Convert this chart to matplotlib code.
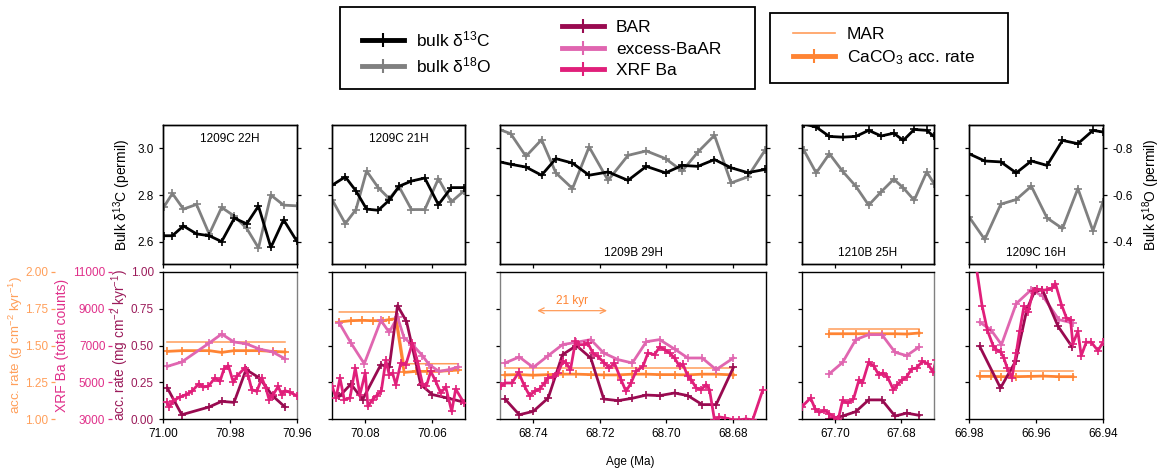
import matplotlib
matplotlib.use('Agg')
import matplotlib.pyplot as plt
from matplotlib.lines import Line2D
from matplotlib.patches import Rectangle
from matplotlib.ticker import FormatStrFormatter

plt.rcParams['font.family'] = ['Liberation Sans', 'DejaVu Sans']
plt.rcParams['mathtext.default'] = 'regular'
plt.rcParams['axes.unicode_minus'] = False

# ------------------------------------------------------------------ data
core_labels = ['1209C 22H', '1209C 21H', '1209B 29H', '1210B 25H', '1209C 16H']
x_limits = [(71.00, 70.96), (70.09, 70.05), (68.75, 68.67), (67.71, 67.67), (66.98, 66.94)]
x_ticks = [[71.00, 70.98, 70.96], [70.08, 70.06], [68.74, 68.72, 68.70, 68.68],
           [67.70, 67.68], [66.98, 66.96, 66.94]]
d13c_ticks = [2.6, 2.8, 3.0]
d18o_ticks = [-0.8, -0.6, -0.4]
mg_ticks = [0.00, 0.25, 0.50, 0.75, 1.00]
xrf_ticks = [3000, 5000, 7000, 9000, 11000]
g_ticks = [1.00, 1.25, 1.50, 1.75, 2.00]

# panel 1 : 1209C 22H
p1_iso_age = [70.9997, 70.9972, 70.9939, 70.9900, 70.9862, 70.9825, 70.9787, 70.9750,
              70.9715, 70.9678, 70.9640, 70.9601]
p1_d13c = [2.626, 2.626, 2.668, 2.634, 2.626, 2.601, 2.701, 2.677, 2.753, 2.576, 2.694, 2.604]
p1_d18o = [-0.550, -0.607, -0.540, -0.560, -0.433, -0.547, -0.510, -0.457, -0.374, -0.600,
           -0.557, -0.554]
p1_acc_age = [70.9987, 70.9944, 70.9862, 70.9825, 70.9788, 70.9752, 70.9712, 70.9673, 70.9636]
p1_bar = [0.211, 0.029, 0.082, 0.120, 0.113, 0.336, 0.279, 0.158, 0.082]
p1_xsbaar = [0.358, 0.388, 0.517, 0.578, 0.524, 0.512, 0.476, 0.456, 0.410]
p1_caco3 = [1.460, 1.465, 1.465, 1.453, 1.465, 1.465, 1.465, 1.460, 1.456]
p1_mar = [1.524, 1.524, 1.524, 1.524, 1.524, 1.524, 1.524, 1.524, 1.524]
p1_xrf_age = [70.9989, 70.9981, 70.9969, 70.9949, 70.9931, 70.9914, 70.9893, 70.9880,
              70.9865, 70.9845, 70.9830, 70.9818, 70.9805, 70.9790, 70.9780, 70.9755,
              70.9745, 70.9735, 70.9720, 70.9705, 70.9693, 70.9683, 70.9671, 70.9656,
              70.9646, 70.9636, 70.9621, 70.9601]
p1_xrf = [3904, 3656, 4000, 4200, 4328, 4504, 4920, 4744, 4776, 5232, 5048, 5720, 5904, 4992,
          5320, 5800, 5320, 4600, 4504, 5232, 4688, 4040, 4328, 4776, 4328, 4544, 4448, 4272]

# panel 2 : 1209C 21H
p2_iso_age = [70.0900, 70.0860, 70.0828, 70.0796, 70.0761, 70.0728, 70.0698, 70.0661,
              70.0621, 70.0580, 70.0541, 70.0503]
p2_d13c = [2.842, 2.878, 2.818, 2.740, 2.735, 2.778, 2.838, 2.860, 2.873, 2.759, 2.832, 2.832]
p2_d18o = [-0.581, -0.478, -0.538, -0.703, -0.632, -0.585, -0.635, -0.538, -0.538, -0.670,
           -0.571, -0.618]
p2_acc_age = [70.0878, 70.0843, 70.0810, 70.0778, 70.0748, 70.0728, 70.0708, 70.0683,
              70.0648, 70.0613, 70.0578, 70.0548, 70.0520]
p2_caco3 = [1.660, 1.669, 1.671, 1.669, 1.669, 1.676, 1.683, 1.317, 1.324, 1.324, 1.324,
            1.329, 1.333]
p2_mar = [1.728, 1.728, 1.728, 1.728, 1.728, 1.728, 1.728, 1.376, 1.376, 1.376, 1.376,
          1.376, 1.376]
p2_xs_age = [70.0878, 70.0843, 70.0803, 70.0753, 70.0728, 70.0703, 70.0683, 70.0658,
             70.0628, 70.0608, 70.0578, 70.0548, 70.0520]
p2_xsbaar = [0.653, 0.517, 0.376, 0.671, 0.590, 0.694, 0.551, 0.506, 0.431, 0.370, 0.324,
             0.336, 0.354]
p2_bar_age = [70.0878, 70.0843, 70.0808, 70.0753, 70.0728, 70.0703, 70.0676, 70.0633,
              70.0598, 70.0553, 70.0513]
p2_bar = [0.154, 0.238, 0.132, 0.370, 0.351, 0.771, 0.664, 0.234, 0.166, 0.143, 0.120]
p2_xrf_age = [70.0900, 70.0888, 70.0876, 70.0863, 70.0846, 70.0830, 70.0816, 70.0800,
              70.0792, 70.0778, 70.0766, 70.0752, 70.0738, 70.0728, 70.0718, 70.0708,
              70.0693, 70.0678, 70.0658, 70.0643, 70.0628, 70.0616, 70.0603, 70.0588,
              70.0573, 70.0558, 70.0540, 70.0528, 70.0503]
p2_xrf = [4816, 4144, 5232, 4056, 4144, 5776, 4328, 5504, 3688, 4056, 4272, 4504, 6192, 5416,
          5504, 4872, 6048, 5960, 7136, 6136, 4920, 4816, 5592, 5048, 4416, 4744, 3416, 4632,
          3872]

# panel 3 : 1209B 29H
p3_iso_age = [68.7500, 68.7468, 68.7422, 68.7375, 68.7332, 68.7282, 68.7232, 68.7175,
              68.7115, 68.7060, 68.7002, 68.6952, 68.6905, 68.6855, 68.6805, 68.6755, 68.6702]
p3_d13c = [2.942, 2.932, 2.920, 2.885, 2.956, 2.937, 2.885, 2.899, 2.863, 2.923, 2.895, 2.927,
           2.923, 2.952, 2.917, 2.896, 2.910]
p3_d18o = [-0.880, -0.863, -0.766, -0.837, -0.695, -0.628, -0.806, -0.663, -0.770, -0.789,
           -0.756, -0.703, -0.784, -0.856, -0.652, -0.678, -0.794]
p3_acc_age = [68.7485, 68.7442, 68.7400, 68.7355, 68.7312, 68.7270, 68.7227, 68.7188,
              68.7145, 68.7102, 68.7060, 68.7020, 68.6975, 68.6935, 68.6892, 68.6850, 68.6798]
p3_xsbaar = [0.381, 0.422, 0.351, 0.431, 0.506, 0.522, 0.540, 0.449, 0.404, 0.381, 0.526,
             0.540, 0.476, 0.415, 0.415, 0.336, 0.415]
p3_bar = [0.136, 0.029, 0.052, 0.143, 0.438, 0.499, 0.415, 0.136, 0.125, 0.141, 0.163, 0.159,
          0.177, 0.159, 0.098, 0.098, 0.351]
p3_caco3 = [1.300, 1.302, 1.298, 1.302, 1.305, 1.305, 1.302, 1.300, 1.300, 1.305, 1.305,
            1.302, 1.302, 1.300, 1.305, 1.305, 1.300]
p3_mar = [1.347, 1.347, 1.347, 1.347, 1.347, 1.347, 1.347, 1.347, 1.347, 1.347, 1.347,
          1.347, 1.347, 1.347, 1.347, 1.347, 1.347]
p3_xrf_age = [68.7498, 68.7484, 68.7464, 68.7444, 68.7426, 68.7411, 68.7396, 68.7381,
              68.7366, 68.7356, 68.7341, 68.7326, 68.7311, 68.7301, 68.7288, 68.7273,
              68.7261, 68.7248, 68.7236, 68.7221, 68.7206, 68.7186, 68.7171, 68.7156,
              68.7136, 68.7121, 68.7106, 68.7091, 68.7070, 68.7055, 68.7035, 68.7020,
              68.7005, 68.6990, 68.6975, 68.6960, 68.6950, 68.6935, 68.6925, 68.6910,
              68.6895, 68.6880, 68.6870, 68.6855, 68.6840, 68.6822, 68.6800, 68.6780,
              68.6760, 68.6740, 68.6710]
p3_xrf = [4776, 4960, 4960, 5536, 4776, 4272, 4504, 4632, 4960, 5232, 5288, 5504, 6136, 6048,
          5688, 7224, 7048, 7048, 7136, 6592, 6408, 6048, 5776, 6048, 5144, 4504, 4960, 5592,
          5864, 6592, 6504, 6920, 6776, 6592, 6320, 5864, 5992, 5320, 5144, 4688, 4600, 4872,
          4600, 2960, 3112, 3056, 2960, 2960, 3000, 2960, 4560]

# panel 4 : 1210B 25H
p4_iso_age = [67.7094, 67.7057, 67.7017, 67.6977, 67.6937, 67.6898, 67.6860, 67.6822,
              67.6793, 67.6760, 67.6722, 67.6700]
p4_d13c = [3.105, 3.091, 3.051, 3.048, 3.051, 3.077, 3.053, 3.065, 3.034, 3.081, 3.077, 3.051]
p4_d18o = [-0.791, -0.695, -0.777, -0.702, -0.638, -0.557, -0.614, -0.668, -0.631, -0.578,
           -0.699, -0.649]
p4_acc_age = [67.7017, 67.6977, 67.6937, 67.6898, 67.6858, 67.6818, 67.6783, 67.6745]
p4_xsbaar = [0.308, 0.385, 0.540, 0.574, 0.574, 0.454, 0.431, 0.490]
p4_bar = [0.000, 0.020, 0.050, 0.130, 0.130, 0.020, 0.040, 0.025]
p4_caco3 = [1.580, 1.580, 1.580, 1.580, 1.580, 1.580, 1.578, 1.585]
p4_mar = [1.612, 1.612, 1.612, 1.612, 1.612, 1.612, 1.612, 1.612]
p4_xrf_age = [67.7101, 67.7074, 67.7060, 67.7047, 67.7032, 67.7017, 67.7002, 67.6990,
              67.6977, 67.6962, 67.6944, 67.6927, 67.6917, 67.6898, 67.6883, 67.6868,
              67.6855, 67.6841, 67.6823, 67.6811, 67.6798, 67.6783, 67.6768, 67.6753,
              67.6735, 67.6718, 67.6703, 67.6694]
p4_xrf = [3656, 4144, 3544, 3360, 3472, 3288, 3112, 3000, 4016, 3872, 4088, 5144, 4960, 6080,
          5904, 5416, 5504, 5288, 4600, 4872, 5104, 5288, 5720, 5776, 6136, 6008, 5536, 6192]

# panel 5 : 1209C 16H
p5_iso_age = [66.9800, 66.9753, 66.9705, 66.9659, 66.9614, 66.9567, 66.9521, 66.9475,
              66.9430, 66.9400]
p5_d13c = [2.977, 2.946, 2.942, 2.895, 2.946, 2.927, 3.034, 3.020, 3.077, 3.070]
p5_d18o = [-0.507, -0.410, -0.561, -0.581, -0.638, -0.502, -0.457, -0.628, -0.447, -0.571]
p5_acc_age = [66.9768, 66.9735, 66.9703, 66.9659, 66.9614, 66.9579, 66.9532, 66.9490]
p5_xsbaar = [0.658, 0.608, 0.506, 0.785, 0.880, 0.834, 0.676, 0.653]
p5_caco3 = [1.290, 1.290, 1.288, 1.288, 1.290, 1.292, 1.288, 1.288]
p5_mar = [1.324, 1.324, 1.324, 1.324, 1.324, 1.324, 1.324, 1.324]
p5_bar_age = [66.9768, 66.9706, 66.9661, 66.9627, 66.9604, 66.9581, 66.9534, 66.9492]
p5_bar = [0.494, 0.211, 0.392, 0.748, 0.868, 0.880, 0.630, 0.490]
p5_xrf_age = [66.9783, 66.9761, 66.9745, 66.9728, 66.9718, 66.9705, 66.9696, 66.9686,
              66.9672, 66.9659, 66.9649, 66.9636, 66.9624, 66.9609, 66.9596, 66.9582,
              66.9566, 66.9552, 66.9542, 66.9524, 66.9509, 66.9497, 66.9490, 66.9475,
              66.9465, 66.9450, 66.9435, 66.9415, 66.9400]
p5_xrf = [11856, 9168, 7824, 6992, 6776, 6632, 6320, 5776, 5232, 6592, 7768, 9128, 8808,
          9944, 10072, 10000, 10040, 10128, 10368, 9224, 8496, 8408, 7096, 7768, 6448, 7176,
          7176, 6720, 7176]

# 21-kyr scale bar (start age, duration in kyr)
scale_bar_start = 68.7388
scale_bar_kyr = 21

panels = [
    dict(iso_age=p1_iso_age, d13c=p1_d13c, d18o=p1_d18o, ca_age=p1_acc_age, caco3=p1_caco3,
         mar=p1_mar, xs_age=p1_acc_age, xs=p1_xsbaar, bar_age=p1_acc_age, bar=p1_bar,
         xrf_age=p1_xrf_age, xrf=p1_xrf),
    dict(iso_age=p2_iso_age, d13c=p2_d13c, d18o=p2_d18o, ca_age=p2_acc_age, caco3=p2_caco3,
         mar=p2_mar, xs_age=p2_xs_age, xs=p2_xsbaar, bar_age=p2_bar_age, bar=p2_bar,
         xrf_age=p2_xrf_age, xrf=p2_xrf),
    dict(iso_age=p3_iso_age, d13c=p3_d13c, d18o=p3_d18o, ca_age=p3_acc_age, caco3=p3_caco3,
         mar=p3_mar, xs_age=p3_acc_age, xs=p3_xsbaar, bar_age=p3_acc_age, bar=p3_bar,
         xrf_age=p3_xrf_age, xrf=p3_xrf),
    dict(iso_age=p4_iso_age, d13c=p4_d13c, d18o=p4_d18o, ca_age=p4_acc_age, caco3=p4_caco3,
         mar=p4_mar, xs_age=p4_acc_age, xs=p4_xsbaar, bar_age=p4_acc_age, bar=p4_bar,
         xrf_age=p4_xrf_age, xrf=p4_xrf),
    dict(iso_age=p5_iso_age, d13c=p5_d13c, d18o=p5_d18o, ca_age=p5_acc_age, caco3=p5_caco3,
         mar=p5_mar, xs_age=p5_acc_age, xs=p5_xsbaar, bar_age=p5_bar_age, bar=p5_bar,
         xrf_age=p5_xrf_age, xrf=p5_xrf),
]

# ------------------------------------------------------------------ style
C_BLACK = '#000000'
C_GRAY = '#808080'
C_BAR = '#990a50'
C_XS = '#e066b0'
C_XRF = '#e01f7a'
C_MAR = '#ff9c5a'
C_CA = '#ff8433'
T_ORANGE = '#ff9f5a'
T_PINK = '#e0308a'
T_MAROON = '#9b1b5a'
LW = 2.0
MK = dict(marker='+', ms=6, mew=1.2)
TICK_FS = 8.5

W, H = 1162, 472
fig = plt.figure(figsize=(W / 100, H / 100), dpi=100)
fig.patch.set_facecolor('white')


def fx(px):
    return px / W


def fy(py):
    return 1 - py / H


panel_px = [(163, 297), (332, 465), (500, 766), (802, 934), (969, 1103)]
TOP = (125, 264)
BOT = (272, 419)
label_top = [True, True, False, False, False]
gray_spine = {0: 'right', 2: 'left', 3: 'right'}

for i, (p, (x0, x1)) in enumerate(zip(panels, panel_px)):
    # ---------------- top: isotopes
    axt = fig.add_axes([fx(x0), fy(TOP[1]), (x1 - x0) / W, (TOP[1] - TOP[0]) / H])
    axt2 = axt.twinx()
    axt.set_zorder(2)
    axt.patch.set_visible(False)
    axt.plot(p['iso_age'], p['d13c'], color=C_BLACK, lw=LW, **MK)
    axt2.plot(p['iso_age'], p['d18o'], color=C_GRAY, lw=LW, **MK)
    axt.set_xlim(*x_limits[i])
    axt.set_ylim(2.505, 3.1)
    axt2.set_ylim(-0.305, -0.9)
    axt.set_xticks(x_ticks[i])
    axt.set_yticks(d13c_ticks)
    axt2.set_yticks(d18o_ticks)
    axt.tick_params(axis='both', direction='out', length=3, width=0.9, labelsize=TICK_FS,
                    labelbottom=False, labelleft=(i == 0))
    axt2.tick_params(axis='y', direction='out', length=3, width=0.9, labelsize=TICK_FS,
                     labelright=(i == 4))
    for ax_ in (axt, axt2):
        for s in ax_.spines.values():
            s.set_linewidth(1.0)
    ty = 0.9 if label_top[i] else 0.08
    axt.text(0.5, ty, core_labels[i], transform=axt.transAxes, ha='center', va='center',
             fontsize=8.5)

    # ---------------- bottom: accumulation rates
    axb = fig.add_axes([fx(x0), fy(BOT[1]), (x1 - x0) / W, (BOT[1] - BOT[0]) / H])
    axg = axb.twinx()
    axx = axb.twinx()
    axg.set_zorder(0)
    axb.set_zorder(1)
    axx.set_zorder(2)
    axb.patch.set_visible(False)
    axg.patch.set_visible(False)
    axx.patch.set_visible(False)

    axg.plot(p['ca_age'], p['mar'], color=C_MAR, lw=1.1)
    axg.plot(p['ca_age'], p['caco3'], color=C_CA, lw=LW, **MK)
    axb.plot(p['xs_age'], p['xs'], color=C_XS, lw=LW, **MK)
    axb.plot(p['bar_age'], p['bar'], color=C_BAR, lw=LW, **MK)
    axx.plot(p['xrf_age'], p['xrf'], color=C_XRF, lw=LW, **MK)

    axb.set_xlim(*x_limits[i])
    axb.set_ylim(0, 1)
    axg.set_ylim(1, 2)
    axx.set_ylim(3000, 11000)
    axb.set_xticks(x_ticks[i])
    axb.xaxis.set_major_formatter(FormatStrFormatter('%.2f'))
    axb.set_yticks(mg_ticks)
    axb.yaxis.set_major_formatter(FormatStrFormatter('%.2f'))
    axb.tick_params(axis='both', direction='out', length=3, width=0.9, labelsize=TICK_FS,
                    labelleft=(i == 0))
    axb.tick_params(axis='y', labelcolor=T_MAROON)
    for s in axb.spines.values():
        s.set_linewidth(1.0)
    if i in gray_spine:
        axb.spines[gray_spine[i]].set_color(C_GRAY)
    for ax_ in (axg, axx):
        ax_.set_frame_on(False)

    if i == 0:
        axx.yaxis.set_ticks_position('left')
        axx.spines['left'].set_position(('outward', 37))
        axx.set_yticks(xrf_ticks)
        axx.tick_params(axis='y', direction='out', length=3, width=0.9, color=T_PINK,
                        labelcolor=T_PINK, labelsize=TICK_FS, pad=1.5)
        axg.yaxis.set_ticks_position('left')
        axg.spines['left'].set_position(('outward', 78))
        axg.set_yticks(g_ticks)
        axg.yaxis.set_major_formatter(FormatStrFormatter('%.2f'))
        axg.tick_params(axis='y', direction='out', length=3, width=0.9, color=T_ORANGE,
                        labelcolor=T_ORANGE, labelsize=TICK_FS, pad=1.5)
    else:
        axx.set_yticks([])
        axg.set_yticks([])

    if i == 2:
        end = scale_bar_start - scale_bar_kyr / 1000.0
        axb.annotate('', xy=(scale_bar_start, 0.737), xytext=(end, 0.737),
                     arrowprops=dict(arrowstyle='<->', color=C_MAR, lw=0.9,
                                     shrinkA=0, shrinkB=0))
        axb.text((scale_bar_start + end) / 2, 0.80, '%d kyr' % scale_bar_kyr, color=C_CA,
                 ha='center', va='center', fontsize=8.5)

# ------------------------------------------------------------------ axis labels
fig.text(fx(122), fy(195), 'Bulk δ$^{13}$C (permil)', rotation=90, ha='center', va='center',
         fontsize=10)
fig.text(fx(1151), fy(195), 'Bulk δ$^{18}$O (permil)', rotation=90, ha='center', va='center',
         fontsize=10)
fig.text(fx(16), fy(345), 'acc. rate (g cm$^{-2}$ kyr$^{-1}$)', rotation=90, ha='center',
         va='center', fontsize=9.6, color=T_ORANGE)
fig.text(fx(62), fy(345), 'XRF Ba (total counts)', rotation=90, ha='center', va='center',
         fontsize=10, color=T_PINK)
fig.text(fx(120), fy(345), 'acc. rate (mg cm$^{-2}$ kyr$^{-1}$)', rotation=90, ha='center',
         va='center', fontsize=9.8, color=T_MAROON)
fig.text(fx(630), fy(462), 'Age (Ma)', ha='center', va='center', fontsize=8.5)

# ------------------------------------------------------------------ legends
LMK = dict(marker='+', ms=10, mew=1.5)
h_c13 = Line2D([], [], color=C_BLACK, lw=3.5, **LMK)
h_o18 = Line2D([], [], color=C_GRAY, lw=3.5, **LMK)
h_bar = Line2D([], [], color=C_BAR, lw=3.5, **LMK)
h_xs = Line2D([], [], color=C_XS, lw=3.5, **LMK)
h_xrf = Line2D([], [], color=C_XRF, lw=3.5, **LMK)
h_mar = Line2D([], [], color=C_MAR, lw=1.2)
h_ca = Line2D([], [], color=C_CA, lw=3.5, **LMK)

leg_kw = dict(frameon=False, fontsize=12.5, handlelength=2.4, handletextpad=0.7,
              borderaxespad=0, borderpad=0, labelspacing=0.35, loc='center left')
fig.legend([h_c13, h_o18], ['bulk δ$^{13}$C', 'bulk δ$^{18}$O'],
           bbox_to_anchor=(fx(362), fy(52)), **leg_kw)
fig.legend([h_bar, h_xs, h_xrf], ['BAR', 'excess-BaAR', 'XRF Ba'],
           bbox_to_anchor=(fx(562), fy(49)), **leg_kw)
fig.legend([h_mar, h_ca], ['MAR', 'CaCO$_3$ acc. rate'],
           bbox_to_anchor=(fx(793), fy(47)), **leg_kw)
fig.add_artist(Rectangle((fx(340), fy(89)), fx(755) - fx(340), (89 - 7) / H,
                         transform=fig.transFigure, fill=False, edgecolor='black', lw=1.3))
fig.add_artist(Rectangle((fx(770), fy(83)), fx(1008) - fx(770), (83 - 13) / H,
                         transform=fig.transFigure, fill=False, edgecolor='black', lw=1.3))

fig.savefig('out.png', dpi=100)
